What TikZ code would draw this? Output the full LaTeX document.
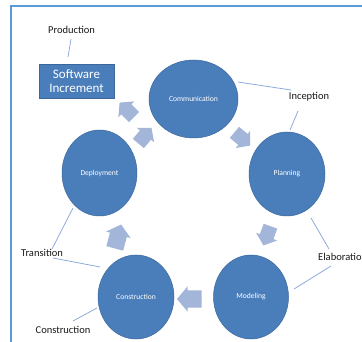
\documentclass[tikz,border=0pt]{standalone}
\usepackage{fontspec}
\setmainfont{Carlito}
\usetikzlibrary{shapes.arrows,shapes.geometric}
\definecolor{circfill}{HTML}{4A7EBB}
\definecolor{circline}{HTML}{3C679B}
\definecolor{arrowc}{HTML}{A3B5D8}
\definecolor{framec}{HTML}{5B9BD5}
\definecolor{leadc}{HTML}{8FAADC}
\begin{document}
\begin{tikzpicture}[x=1pt,y=-1pt,
  phase/.style={ellipse, fill=circfill, draw=circline, line width=0.5pt, text=white, font=\fontsize{7.6}{8}\selectfont, inner sep=0pt},
  flow/.style={single arrow, fill=arrowc, draw=none, inner sep=7pt, minimum height=20pt, single arrow head extend=4pt, single arrow tip angle=100},
  bigflow/.style={flow, inner sep=8.5pt, minimum height=21pt},
  lbl/.style={font=\fontsize{10.5}{12}\selectfont, text=black!90, inner sep=0pt},
  lead/.style={draw=leadc, line width=0.8pt},
  frame/.style={draw=framec, line width=1.6pt}
]
\useasboundingbox (0,0) rectangle (362,342);
\fill[white] (0,0) rectangle (362,342);
% frame
\coordinate (ftl) at (11,6);
\coordinate (ftr) at (366,6);
\coordinate (fbl) at (11,346);
\draw[frame] (ftr) -- (ftl) -- (fbl);

% circles
\path (193.5,99) node[phase, minimum width=89pt, minimum height=78pt] (comm) {Communication};
\path (287,174) node[phase, minimum width=76pt, minimum height=84pt] (plan) {Planning};
\path (251,297) node[phase, minimum width=75pt, minimum height=84pt] (model) {Modeling};
\path (136,297) node[phase, minimum width=76pt, minimum height=84pt] (constr) {Construction};
\path (99.5,173) node[phase, minimum width=75pt, minimum height=86pt] (deploy) {Deployment};

% software increment
\path (76.5,81) node[fill=circfill, draw=circline, line width=0.8pt, minimum width=75pt, minimum height=34pt, text=white, align=center, font=\fontsize{13}{14}\selectfont, inner sep=1pt] (sw) {Software\\Increment};

% flow arrows
\path (129,112) node[flow, rotate=135] (a1) {};
\path (143,138) node[flow, rotate=50] (a2) {};
\path (240,137) node[flow, rotate=-40] (a3) {};
\path (268,233) node[flow, rotate=-110] (a4) {};
\path (193,299) node[bigflow, rotate=180] (a5) {};
\path (117,240) node[bigflow, rotate=75] (a6) {};

% labels
\path (71.5,30) node[lbl] (lprod) {Production};
\path (309,97) node[lbl] (linc) {Inception};
\path (318,257) node[lbl, anchor=west] (lelab) {Elaboration};
\path (42,253) node[lbl] (ltrans) {Transition};
\path (63,330) node[lbl] (lcons) {Construction};

% leader lines
\coordinate (p1) at (71,39); \coordinate (p2) at (68,57);
\draw[lead] (p1) -- (p2);
\coordinate (i1) at (238,82); \coordinate (i2) at (291,90);
\coordinate (i3) at (298,111); \coordinate (i4) at (290,130);
\draw[lead] (i1) -- (i2);
\draw[lead] (i3) -- (i4);
\coordinate (e1) at (311,218); \coordinate (e2) at (329,249);
\coordinate (e3) at (331,266); \coordinate (e4) at (294,289);
\draw[lead] (e1) -- (e2);
\draw[lead] (e3) -- (e4);
\coordinate (t1) at (73,208); \coordinate (t2) at (52,249);
\coordinate (t3) at (53,258); \coordinate (t4) at (100,267);
\draw[lead] (t1) -- (t2);
\draw[lead] (t3) -- (t4);
\coordinate (c1) at (73,321); \coordinate (c2) at (97,308);
\draw[lead] (c1) -- (c2);
\end{tikzpicture}
\end{document}
